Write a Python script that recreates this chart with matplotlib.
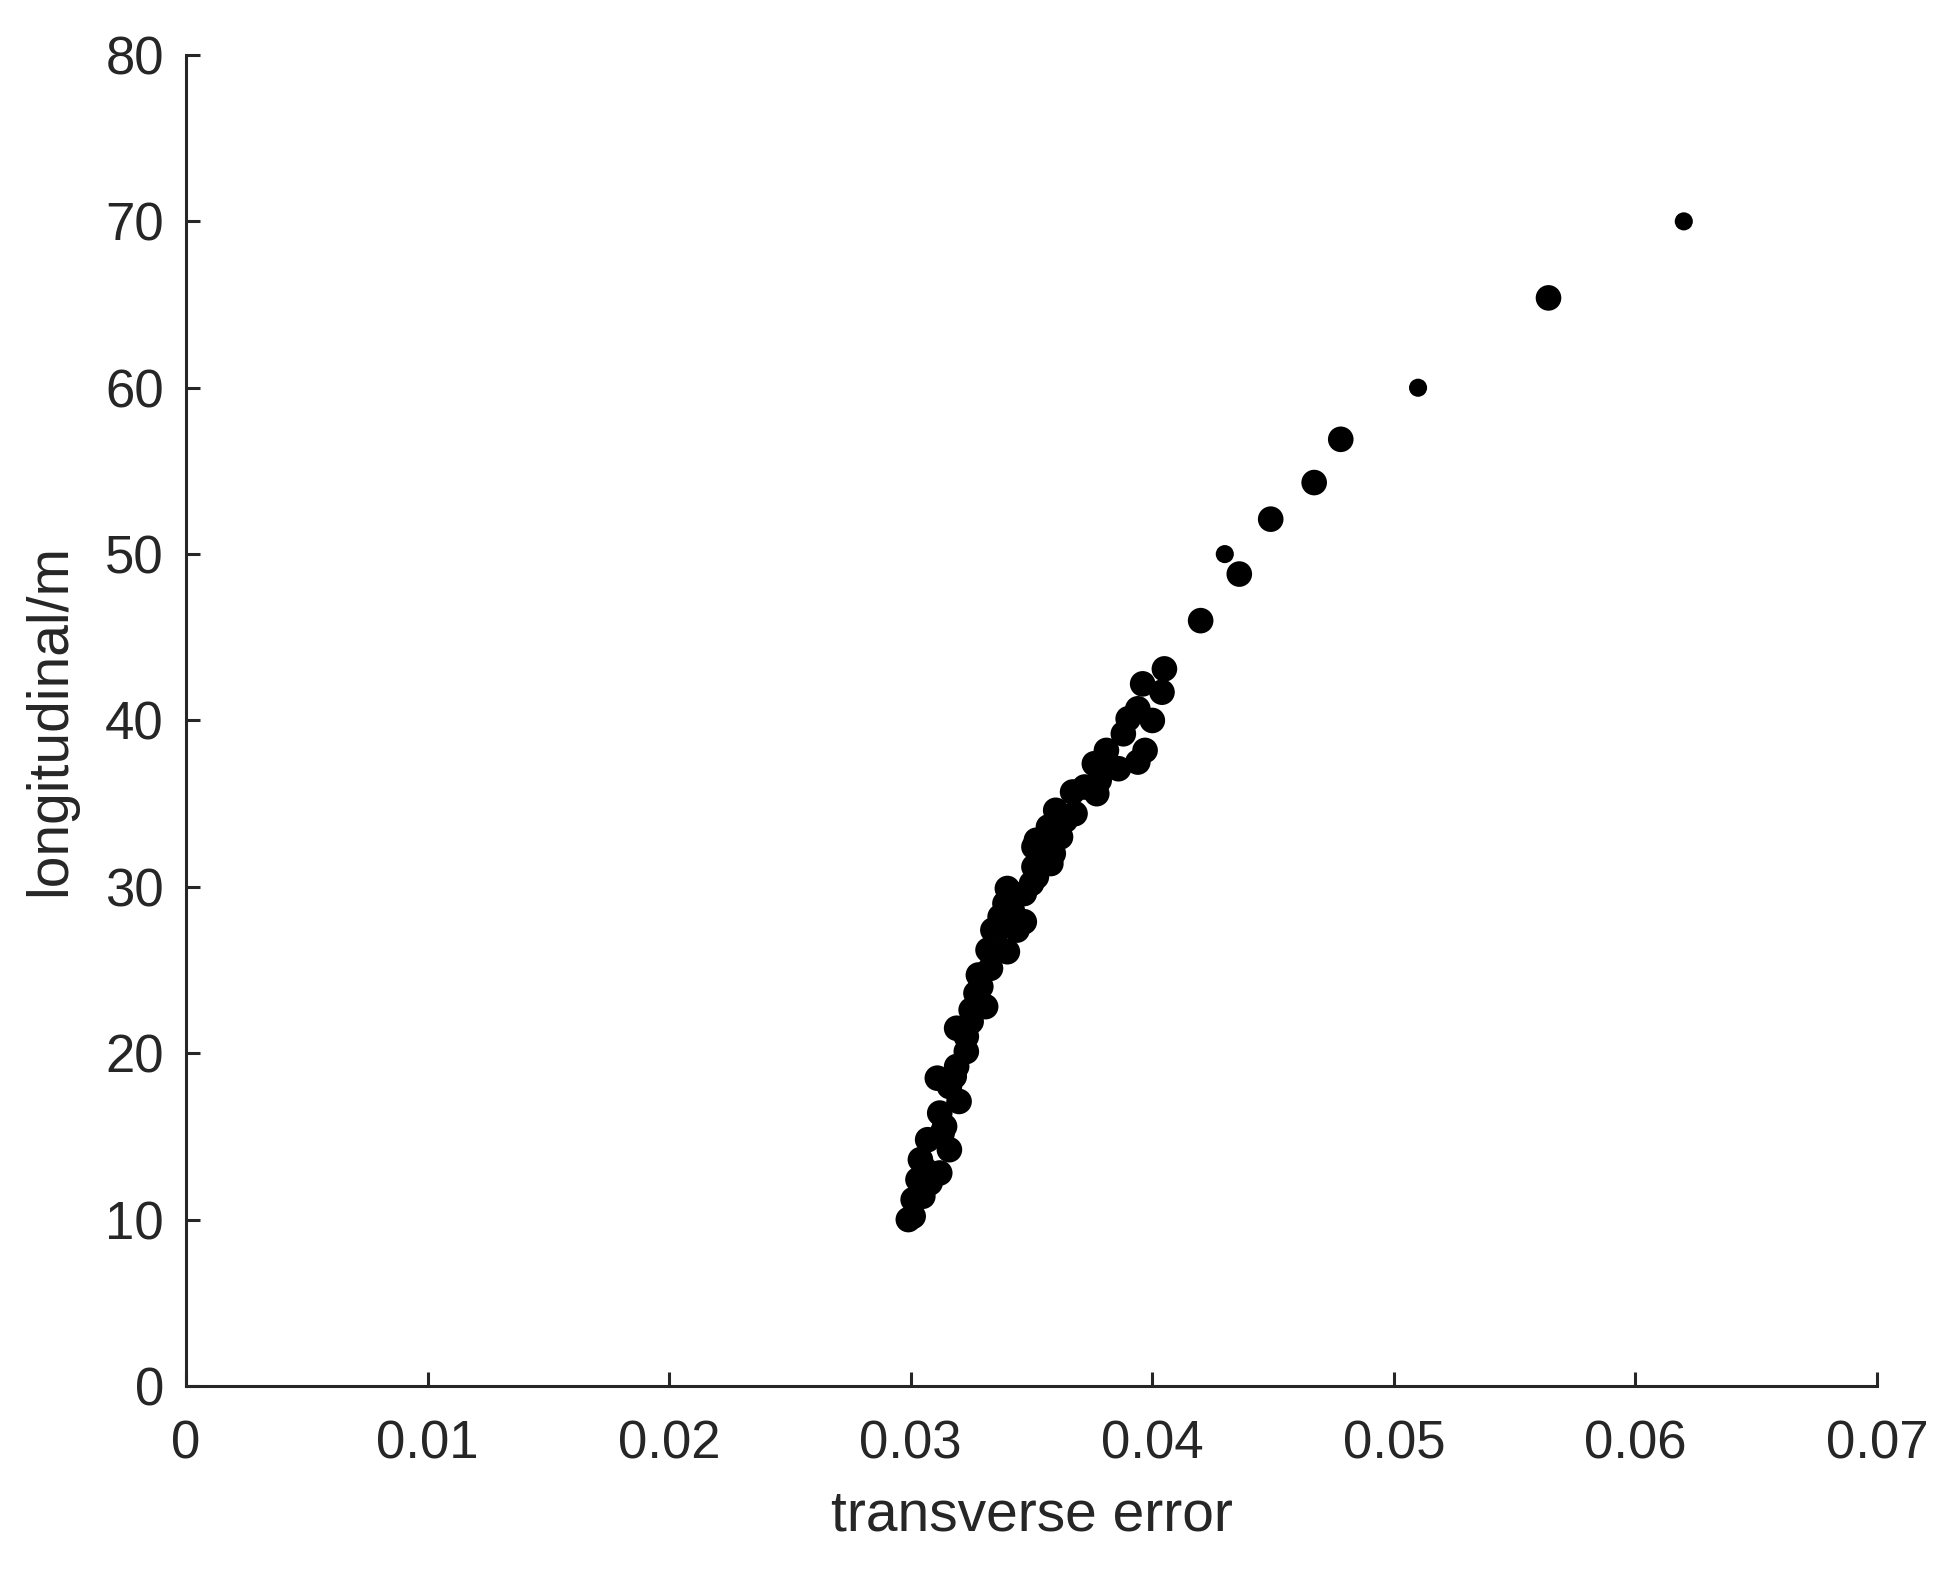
import matplotlib
matplotlib.use("Agg")
import matplotlib.pyplot as plt

# transverse error vs longitudinal distance
trans_err = [
    0.0299, 0.0301, 0.0301, 0.0305, 0.0303, 0.0308, 0.0312, 0.0304, 0.0316, 0.0307,
    0.0314, 0.0312, 0.0320, 0.0316, 0.0311, 0.0319, 0.0323, 0.0323, 0.0319, 0.0325,
    0.0325, 0.0331, 0.0327, 0.0328, 0.0333, 0.0340, 0.0332, 0.0344, 0.0334, 0.0336,
    0.0337, 0.0347, 0.0339, 0.0347, 0.0340, 0.0350, 0.0352, 0.0351, 0.0358, 0.0359,
    0.0351, 0.0362, 0.0352, 0.0357, 0.0361, 0.0360, 0.0368, 0.0367, 0.0377, 0.0378,
    0.0386, 0.0376, 0.0394, 0.0397, 0.0381, 0.0388, 0.0400, 0.0390, 0.0394, 0.0404,
    0.0396, 0.0405, 0.0420, 0.0436, 0.0449, 0.0467, 0.0478, 0.0564,
    0.0306, 0.0313, 0.0318, 0.0329, 0.0342, 0.0355, 0.0364, 0.0372,
]
longitudinal = [
    10.0, 10.2, 11.2, 11.4, 12.4, 12.2, 12.8, 13.6, 14.2, 14.8,
    15.6, 16.4, 17.1, 18.0, 18.5, 19.2, 20.1, 21.0, 21.5, 21.9,
    22.6, 22.8, 23.6, 24.7, 25.1, 26.1, 26.2, 27.4, 27.4, 27.4,
    28.2, 27.9, 29.0, 29.6, 29.9, 30.2, 30.6, 31.2, 31.4, 32.0,
    32.4, 33.0, 32.8, 33.6, 33.7, 34.6, 34.4, 35.7, 35.6, 36.4,
    37.1, 37.4, 37.5, 38.2, 38.2, 39.2, 40.0, 40.1, 40.7, 41.7,
    42.2, 43.1, 46.0, 48.8, 52.1, 54.3, 56.9, 65.4,
    13.0, 15.2, 18.6, 24.0, 28.6, 31.8, 34.0, 36.0,
]
# the few points drawn with a smaller dot
small_err = [0.0430, 0.0510, 0.0620]
small_long = [50.0, 60.0, 70.0]

x_ticks = [0, 0.01, 0.02, 0.03, 0.04, 0.05, 0.06, 0.07]
x_labels = ["0", "0.01", "0.02", "0.03", "0.04", "0.05", "0.06", "0.07"]
y_ticks = [0, 10, 20, 30, 40, 50, 60, 70, 80]

plt.rcParams["font.family"] = ["Liberation Sans", "DejaVu Sans"]
axis_col = "#262626"

fig = plt.figure(figsize=(19.52, 15.76), dpi=100)
ax = fig.add_axes([0.0953, 0.1206, 0.8663, 0.8445])

ax.scatter(trans_err, longitudinal, s=340, c="black", edgecolors="none")
ax.scatter(small_err, small_long, s=170, c="black", edgecolors="none")

ax.set_xlim(0, 0.07)
ax.set_ylim(0, 80)
ax.set_xticks(x_ticks)
ax.set_xticklabels(x_labels)
ax.set_yticks(y_ticks)

for side in ("top", "right"):
    ax.spines[side].set_visible(False)
for side in ("left", "bottom"):
    ax.spines[side].set_linewidth(2.2)
    ax.spines[side].set_color(axis_col)

ax.tick_params(direction="in", length=10, width=2.2, color=axis_col,
               labelsize=38, labelcolor=axis_col, pad=16)
ax.tick_params(axis="x", pad=24)
ax.set_xlabel("transverse error", fontsize=41, color=axis_col, labelpad=14)
ax.set_ylabel("longitudinal/m", fontsize=41, color=axis_col, labelpad=20)

fig.savefig("out.png", dpi=100)
